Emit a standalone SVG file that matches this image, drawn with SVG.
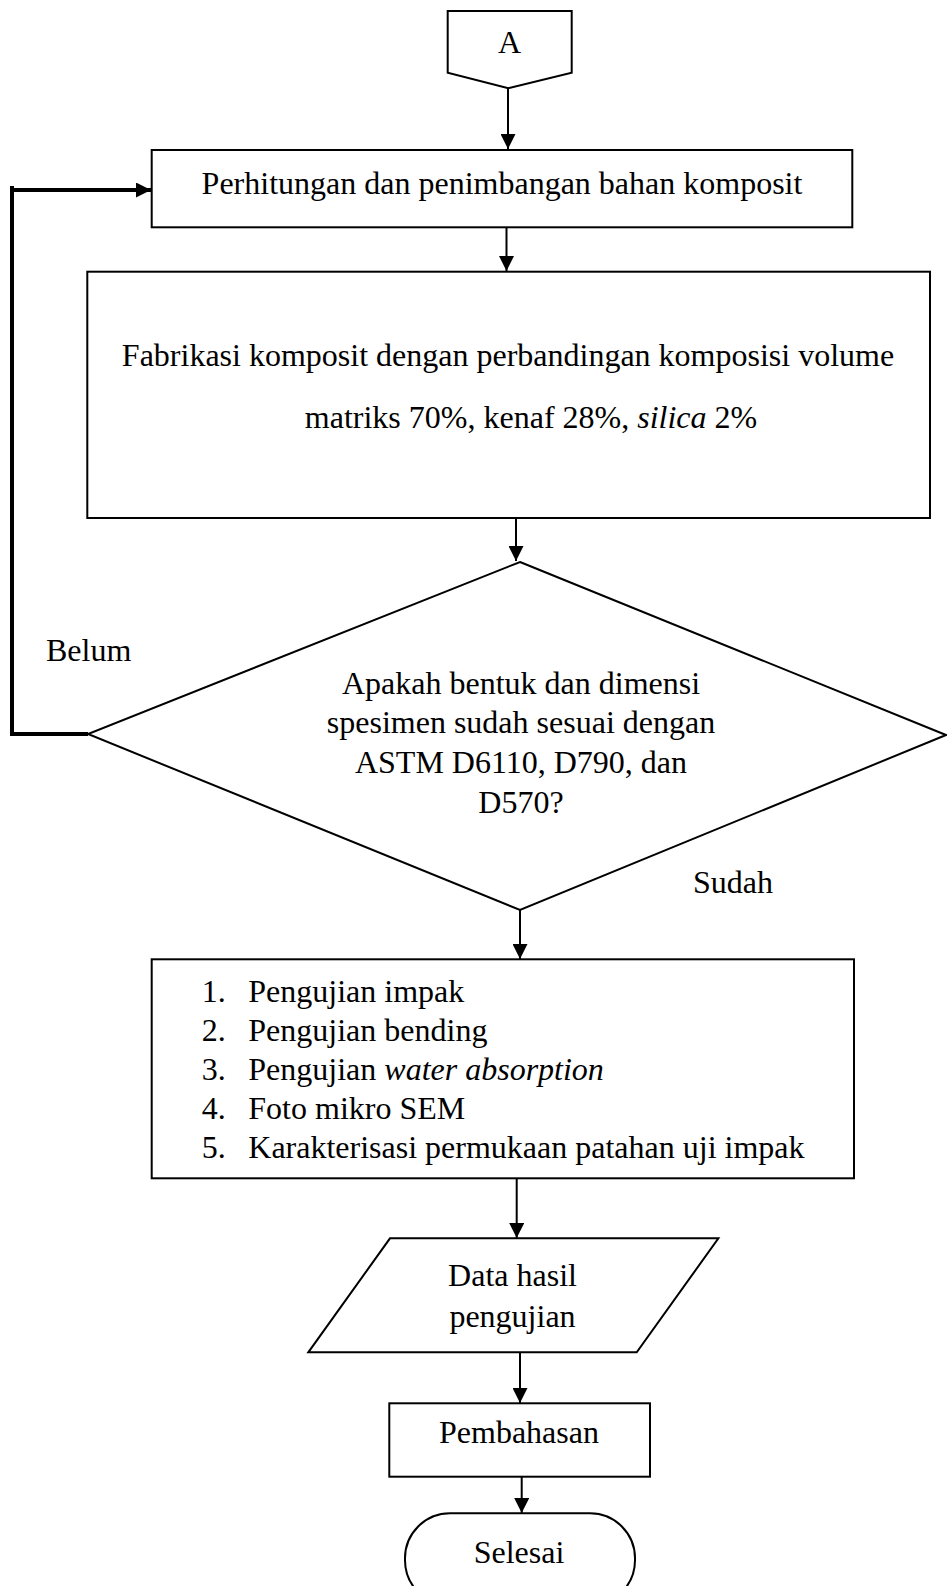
<svg xmlns="http://www.w3.org/2000/svg" width="947" height="1586" viewBox="0 0 947 1586">
<style>
.t{font-family:"Liberation Serif","Times New Roman",serif;font-size:32px;fill:#000}
.m{text-anchor:middle}
.i{font-style:italic}
.s{fill:#fff;stroke:#000;stroke-width:2}
.c{fill:none;stroke:#000;stroke-width:2}
.k{fill:none;stroke:#000;stroke-width:4}
</style>
<defs>
<marker id="ah" markerUnits="userSpaceOnUse" markerWidth="15" markerHeight="15" refX="15" refY="7.5" orient="auto" viewBox="0 0 15 15">
<path d="M0,0 L15,7.5 L0,15 z" fill="#000"/>
</marker>
</defs>
<rect width="947" height="1586" fill="#fff"/>
<g id="connectors">
<line class="c" x1="508" y1="88" x2="508" y2="149" marker-end="url(#ah)"/>
<line class="c" x1="506.5" y1="228" x2="506.5" y2="271" marker-end="url(#ah)"/>
<line class="c" x1="516" y1="518" x2="516" y2="561" marker-end="url(#ah)"/>
<polyline class="k" points="88,734 12,734 12,186"/>
<line class="k" x1="10" y1="190" x2="151" y2="190" marker-end="url(#ah)"/>
<line class="c" x1="520" y1="910" x2="520" y2="959" marker-end="url(#ah)"/>
<line class="c" x1="516.7" y1="1178" x2="516.7" y2="1238" marker-end="url(#ah)"/>
<line class="c" x1="520" y1="1352" x2="520" y2="1403" marker-end="url(#ah)"/>
<line class="c" x1="521.7" y1="1470" x2="521.7" y2="1513" marker-end="url(#ah)"/>
</g>
<g id="start-A">
<polygon class="s" points="447.7,11 571.7,11 571.7,72.7 508.3,88.3 447.7,72.7"/>
<text class="t m" x="509.5" y="52.5">A</text>
</g>
<g id="perhitungan">
<rect class="s" x="151.7" y="150" width="700.6" height="77.3"/>
<text class="t m" x="502" y="193.5">Perhitungan dan penimbangan bahan komposit</text>
</g>
<g id="fabrikasi">
<rect class="s" x="87.3" y="271.7" width="842.7" height="246.3"/>
<text class="t m" x="508" y="366">Fabrikasi komposit dengan perbandingan komposisi volume</text>
<text class="t m" x="531" y="428">matriks 70%, kenaf 28%, <tspan class="i">silica</tspan> 2%</text>
</g>
<g id="decision">
<polygon class="s" points="520,562 946,735 520,910 88,734"/>
<text class="t m" x="521" y="693.5">Apakah bentuk dan dimensi</text>
<text class="t m" x="521" y="733">spesimen sudah sesuai dengan</text>
<text class="t m" x="521" y="773">ASTM D6110, D790, dan</text>
<text class="t m" x="521" y="812.5">D570?</text>
</g>
<g id="label-belum">
<text class="t" x="46" y="660.5">Belum</text>
</g>
<g id="label-sudah">
<text class="t" x="693" y="892.5">Sudah</text>
</g>
<g id="pengujian">
<rect class="s" x="151.7" y="959.3" width="702.3" height="219"/>
<text class="t" x="201.7" y="1002">1.</text>
<text class="t" x="248.3" y="1002">Pengujian impak</text>
<text class="t" x="201.7" y="1041">2.</text>
<text class="t" x="248.3" y="1041">Pengujian bending</text>
<text class="t" x="201.7" y="1080">3.</text>
<text class="t" x="248.3" y="1080">Pengujian <tspan class="i">water absorption</tspan></text>
<text class="t" x="201.7" y="1119">4.</text>
<text class="t" x="248.3" y="1119">Foto mikro SEM</text>
<text class="t" x="201.7" y="1158">5.</text>
<text class="t" x="248.3" y="1158">Karakterisasi permukaan patahan uji impak</text>
</g>
<g id="data">
<polygon class="s" points="390,1238.3 718.4,1238.3 636.7,1352.3 308.3,1352.3"/>
<text class="t m" x="512.5" y="1286">Data hasil</text>
<text class="t m" x="512.5" y="1326.5">pengujian</text>
</g>
<g id="pembahasan">
<rect class="s" x="389.3" y="1403.3" width="260.7" height="73.4"/>
<text class="t m" x="519" y="1443.3">Pembahasan</text>
</g>
<g id="selesai">
<rect class="s" x="405" y="1513.3" width="230" height="92" rx="45" ry="45"/>
<text class="t m" x="519" y="1563">Selesai</text>
</g>
</svg>
